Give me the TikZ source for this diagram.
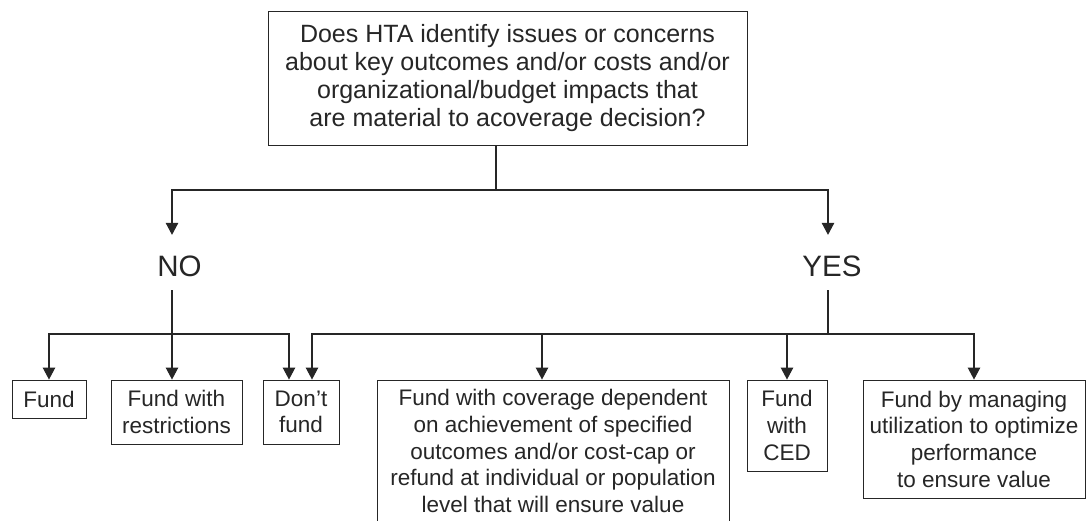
\documentclass[tikz,border=0pt]{standalone}
\usepackage{fontspec}
\setmainfont{Liberation Sans}
\usetikzlibrary{arrows.meta}
\begin{document}
\begin{tikzpicture}[x=1pt,y=-1pt,color=black!85,
  box/.style={draw, line width=0.9pt, inner sep=0pt, align=center,
    font=\fontsize{22.5}{26.7}\selectfont},
  arr/.style={-{Triangle[length=12pt,width=12.5pt]}, line width=1.1pt},
  conn/.style={line width=1.1pt},
  lbl/.style={font=\fontsize{29.5}{34}\selectfont, inner sep=0pt}]
\useasboundingbox (0,0) rectangle (1089,520);

\node[box, font=\fontsize{25}{28.3}\selectfont, minimum width=479pt, minimum height=134pt] (top) at (507.5,78)
  {Does HTA identify issues or concerns\\about key outcomes and/or costs and/or\\organizational/budget impacts that\\are material to acoverage decision?};

\node[lbl] (no) at (179.5,266.5) {NO};
\node[lbl] (yes) at (832,266.5) {YES};

\node[box, minimum width=74pt, minimum height=38pt] (fund) at (49,399) {Fund};
\node[box, minimum width=131pt, minimum height=64pt] (restr) at (176.5,412) {Fund with\\restrictions};
\node[box, minimum width=76pt, minimum height=64pt] (dont) at (301,412) {Don’t\\fund};
\node[box, minimum width=352pt, minimum height=142pt] (mid) at (553,451)
  {Fund with coverage dependent\\on achievement of specified\\outcomes and/or cost-cap or\\refund at individual or population\\level that will ensure value};
\node[box, minimum width=80pt, minimum height=91pt] (ced) at (787,425.5) {Fund\\with\\CED};
\node[box, minimum width=222pt, minimum height=118pt] (util) at (974,439)
  {Fund by managing\\utilization to optimize\\performance\\to ensure value};

\coordinate (jt) at (496,190);
\coordinate (noj) at (172,334);
\coordinate (yesj) at (828,334);

\draw[conn] (top.south -| jt) -- (jt);
\draw[arr] (jt) -| ([xshift=-7.5pt,yshift=21pt]no.north);
\draw[arr] (jt) -| ([xshift=-4pt,yshift=21pt]yes.north);
\draw[conn] ([xshift=-7.5pt,yshift=-13pt]no.south) -- (noj);
\draw[conn] ([xshift=-4pt,yshift=-13pt]yes.south) -- (yesj);

\draw[arr] (noj) -| (fund.north);
\draw[arr] (noj) -- (noj |- restr.north);
\draw[arr] (noj) -| ([xshift=-12pt]dont.north);

\draw[arr] (yesj) -| ([xshift=11pt]dont.north);
\draw[arr] (yesj) -| ([xshift=-11pt]mid.north);
\draw[arr] (yesj) -| (ced.north);
\draw[arr] (yesj) -| (util.north);
\end{tikzpicture}
\end{document}
